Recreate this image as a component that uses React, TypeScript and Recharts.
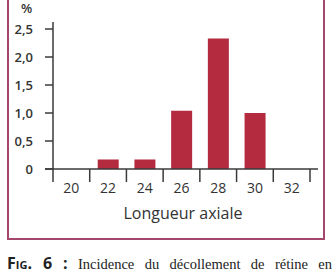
import React from 'react';
import { BarChart, Bar, XAxis, YAxis } from 'recharts';

// Longueur axiale (mm) vs incidence du décollement (%)
const categories = ['20', '22', '24', '26', '28', '30', '32'];
const incidence = [0, 0.17, 0.17, 1.04, 2.33, 1.0, 0];
const yTicks = [0, 0.5, 1, 1.5, 2, 2.5];

const chartData = categories.map((c, i) => ({ name: c, value: incidence[i] }));

const PLOT_LEFT = 53;
const PLOT_RIGHT = 310;
const BAND = (PLOT_RIGHT - PLOT_LEFT) / categories.length;
const AXIS = '#3a3a3a';
const SANS = '"Open Sans", sans-serif';

function XTick(props: any) {
  const { x, y, payload, index } = props;
  const half = BAND / 2;
  return (
    <g>
      {index === 0 && (
        <line x1={PLOT_LEFT - 8} x2={PLOT_RIGHT + 8} y1={y} y2={y} stroke={AXIS} strokeWidth={1.5} />
      )}
      <line x1={x - half} x2={x - half} y1={y} y2={y + 13} stroke={AXIS} strokeWidth={1.5} />
      {index === categories.length - 1 && (
        <line x1={x + half} x2={x + half} y1={y} y2={y + 13} stroke={AXIS} strokeWidth={1.5} />
      )}
      <text x={x} y={y + 24} textAnchor="middle" fontSize={14} fontFamily={SANS} fill="#333">
        {payload.value}
      </text>
    </g>
  );
}

export default function App() {
  return (
    <div style={{ position: 'absolute', left: 0, top: 0, width: 336, height: 274, overflow: 'hidden', background: '#fff' }}>
      <div
        style={{
          position: 'absolute',
          left: 7,
          top: -10,
          width: 318,
          height: 250,
          boxSizing: 'border-box',
          border: '2px solid #a3476c',
        }}
      />
      <div style={{ position: 'absolute', left: 21, top: 1, fontFamily: SANS, fontWeight: 600, fontSize: 13, lineHeight: '14px', color: '#333' }}>%</div>
      <div style={{ position: 'absolute', left: 0, top: 0 }}>
        <BarChart width={336} height={274} data={chartData} margin={{ top: 22, right: 26, left: 0, bottom: 0 }}>
          <XAxis
            dataKey="name"
            height={105}
            axisLine={false}
            tickLine={false}
            tickSize={0}
            tickMargin={0}
            interval={0}
            tick={<XTick />}
          />
          <YAxis
            type="number"
            width={53}
            domain={[0, 2.625]}
            ticks={yTicks}
            tickSize={8}
            tickMargin={12}
            stroke={AXIS}
            strokeWidth={1.5}
            tick={{ fontSize: 13, fontFamily: SANS, fontWeight: 600, fill: '#333' }}
            tickFormatter={(v: number) => (v === 0 ? '0' : v.toFixed(1).replace('.', ','))}
          />
          <Bar dataKey="value" fill="#b42b3f" barSize={21} isAnimationActive={false} />
        </BarChart>
      </div>
      <div
        style={{
          position: 'absolute',
          left: 0,
          top: 202,
          width: 366,
          textAlign: 'center',
          fontFamily: SANS,
          fontSize: 16,
          color: '#333',
        }}
      >
        Longueur axiale
      </div>
      <div
        style={{
          position: 'absolute',
          left: 7,
          top: 254,
          width: 325,
          lineHeight: '18px',
          whiteSpace: 'nowrap',
          textAlign: 'justify',
          textAlignLast: 'justify',
          fontFamily: '"Liberation Serif", serif',
          fontSize: 14.5,
          color: '#222',
        }}
      >
        <span style={{ fontFamily: SANS, fontWeight: 700, fontVariant: 'small-caps', fontSize: 16 }}>Fig. 6 :</span>{' '}
        Incidence du décollement de rétine en
      </div>
    </div>
  );
}
